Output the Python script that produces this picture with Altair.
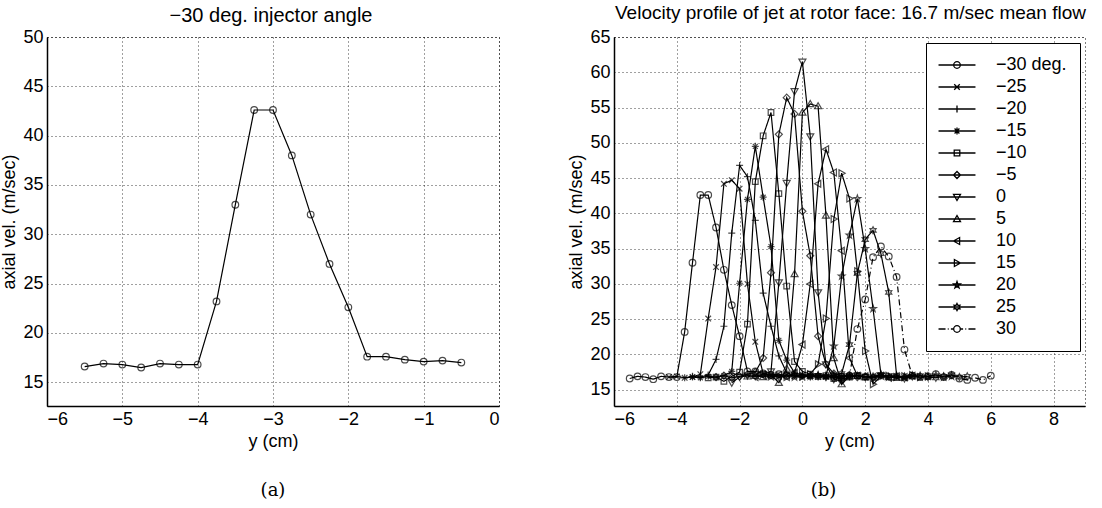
import math
import altair as alt
import pandas as pd

# ---------------- data ----------------
# (a) -30 deg. injector angle
Y_CM_A = [-5.5, -5.25, -5.0, -4.75, -4.5, -4.25, -4.0, -3.75, -3.5, -3.25, -3.0,
          -2.75, -2.5, -2.25, -2.0, -1.75, -1.5, -1.25, -1.0, -0.75, -0.5]
VEL_A = [16.6, 16.9, 16.8, 16.5, 16.9, 16.8, 16.8, 23.2, 33.0, 42.6, 42.6,
         38.0, 32.0, 27.0, 22.6, 17.6, 17.6, 17.3, 17.1, 17.2, 17.0]

# (b) all injector angles
SERIES = ["−30 deg.", "−25", "−20", "−15", "−10", "−5", "0", "5", "10", "15", "20", "25", "30"]
X_START = [-5.5, -4.25, -3.75, -3.5, -3.0, -2.75, -2.25, -1.75, -1.5, -1.0, -0.25, 0.25, 1.0]
X_STEP = 0.25
V_M30 = VEL_A
V_M25 = [16.8, 16.9, 16.7, 16.8, 17.2, 25.1, 32.4, 44.2, 44.7, 43.5, 30.0, 21.8, 17.3, 17.0, 16.8, 17.1, 16.9, 16.7, 17.0, 16.8, 16.9]
V_M20 = [16.7, 16.9, 16.8, 17.1, 19.3, 24.0, 37.2, 46.8, 45.2, 39.0, 28.7, 24.0, 19.8, 17.4, 17.0, 16.9, 17.1, 16.8, 16.9, 17.0, 16.7]
V_M15 = [16.8, 16.7, 16.9, 16.8, 17.0, 17.6, 30.1, 42.0, 49.5, 42.3, 35.3, 22.0, 19.2, 17.4, 17.1, 16.9, 17.0, 16.8, 17.0, 16.8, 16.9]
V_M10 = [16.7, 16.8, 16.2, 16.9, 17.5, 24.3, 44.5, 51.0, 54.3, 42.8, 29.7, 19.0, 17.6, 17.2, 16.9, 17.0, 16.6, 16.9, 16.8, 17.0, 16.8]
V_M05 = [16.8, 17.0, 16.7, 16.9, 17.2, 17.5, 19.5, 31.6, 51.2, 56.4, 54.1, 40.3, 34.0, 22.6, 18.6, 17.3, 16.9, 17.1, 16.8, 16.9, 16.7]
V_P00 = [16.0, 16.8, 17.0, 16.9, 17.2, 17.6, 30.2, 44.3, 57.3, 61.5, 50.9, 28.8, 18.6, 16.5, 16.2, 16.9, 17.0, 16.8, 16.7, 17.0, 16.9]
V_P05 = [16.9, 17.0, 16.8, 17.1, 16.0, 18.0, 31.4, 54.3, 55.5, 55.2, 39.7, 19.5, 15.8, 16.9, 17.0, 16.8, 16.9, 17.1, 16.8, 16.7, 16.9]
V_P10 = [16.8, 17.0, 16.9, 17.1, 16.8, 17.4, 21.4, 30.0, 44.2, 49.1, 45.8, 34.7, 19.5, 17.0, 16.9, 16.8, 17.0, 16.7, 16.9, 16.8, 17.0]
V_P15 = [16.9, 17.0, 16.8, 17.1, 16.9, 17.2, 18.6, 25.1, 39.2, 45.7, 42.1, 31.8, 20.5, 15.8, 16.9, 17.0, 16.8, 16.9, 17.1, 16.8, 16.9]
V_P20 = [16.8, 17.0, 16.9, 17.1, 17.0, 21.2, 31.1, 36.9, 42.1, 35.0, 26.5, 17.2, 16.8, 16.9, 16.7, 17.0, 16.8, 16.9, 17.1, 16.8, 16.9]
V_P25 = [16.9, 17.0, 16.8, 17.1, 17.3, 21.4, 31.5, 36.3, 37.6, 34.3, 28.8, 17.0, 16.6, 16.9, 17.0, 16.8, 16.7, 16.9, 17.1, 16.8, 16.9]
V_P30 = [16.8, 16.5, 17.0, 23.6, 27.8, 33.8, 35.3, 33.9, 31.0, 20.7, 17.0, 16.8, 16.9, 17.2, 16.8, 17.1, 16.6, 16.4, 16.7, 16.4, 17.0]
VALUES = [V_M30, V_M25, V_M20, V_M15, V_M10, V_M05, V_P00, V_P05, V_P10, V_P15, V_P20, V_P25, V_P30]
MARKERS = ["o", "x", "+", "*", "s", "d", "v", "^", "<", ">", "p", "h", "o"]

# ---------------- marker geometry (style only) ----------------
def star_pts(n, r_in):
    pts = []
    for i in range(2 * n):
        r = 1.0 if i % 2 == 0 else r_in
        a = -math.pi / 2 + i * math.pi / n
        pts.append((r * math.cos(a), r * math.sin(a)))
    return pts

POLY = {
    "s": [(-0.8, -0.8), (0.8, -0.8), (0.8, 0.8), (-0.8, 0.8)],
    "d": [(0, -1), (1, 0), (0, 1), (-1, 0)],
    "v": [(-1, -0.75), (1, -0.75), (0, 1)],
    "^": [(-1, 0.75), (1, 0.75), (0, -1)],
    "<": [(0.75, -1), (0.75, 1), (-1, 0)],
    ">": [(-0.75, -1), (-0.75, 1), (1, 0)],
    "p": star_pts(5, 0.4),
    "h": star_pts(6, 0.55),
}
SEGS = {
    "x": [((-0.8, -0.8), (0.8, 0.8)), ((-0.8, 0.8), (0.8, -0.8))],
    "+": [((-1, 0), (1, 0)), ((0, -1), (0, 1))],
    "*": [((-1, 0), (1, 0)), ((0, -1), (0, 1)),
          ((-0.7, -0.7), (0.7, 0.7)), ((-0.7, 0.7), (0.7, -0.7))],
}

def f(v):
    return f"{v:.3f}"

def marker_path(kind, s):
    if kind == "o":
        r = 0.95 * s
        return f"M{f(-r)},0A{f(r)},{f(r)} 0 1,0 {f(r)},0A{f(r)},{f(r)} 0 1,0 {f(-r)},0Z"
    if kind in POLY:
        pts = POLY[kind]
        return "M" + "L".join(f"{f(x*s)},{f(y*s)}" for x, y in pts) + "Z"
    return "".join(f"M{f(a[0]*s)},{f(a[1]*s)}L{f(b[0]*s)},{f(b[1]*s)}" for a, b in SEGS[kind])

# legend symbols: unit = sqrt(144)/2 = 6 px; line spans +-18.5 px
LEG_HALF = 3.08
LEG_MARK = 0.58

def legend_path(kind, dashdot):
    L = LEG_HALF
    if dashdot:
        pieces = [(-L, -0.62 * L), (-0.5 * L, -0.45 * L), (-0.33 * L, -0.18 * L),
                  (0.18 * L, 0.33 * L), (0.45 * L, 0.5 * L), (0.62 * L, L)]
        line = "".join(f"M{f(a)},0L{f(b)},0" for a, b in pieces)
    else:
        line = f"M{f(-L)},0L{f(L)},0"
    return line + marker_path(kind, LEG_MARK)

PLOT_SHAPES = [marker_path(k, 1.0) for k in MARKERS]
LEGEND_SHAPES = [legend_path(k, lab == "30") for k, lab in zip(MARKERS, SERIES)]
DASHES = [[1, 0]] * 12 + [[6, 3, 1, 3]]

# ---------------- tables ----------------
df_a = pd.DataFrame({"y_cm": Y_CM_A, "vel": VEL_A})
rows = []
for lab, x0, vals in zip(SERIES, X_START, VALUES):
    for i, v in enumerate(vals):
        rows.append({"series": lab, "y_cm": x0 + i * X_STEP, "vel": v, "i": i})
df_b = pd.DataFrame(rows)
df_leg = df_b[df_b["i"] == 0]

FONT = "Liberation Sans"
MSIZE = 49
LW = 1.2

# ---------------- panel (a) ----------------
xa = alt.X("y_cm:Q", scale=alt.Scale(domain=[-6, 0], nice=False),
           axis=alt.Axis(values=[-6, -5, -4, -3, -2, -1, 0], title="y (cm)"))
ya = alt.Y("vel:Q", scale=alt.Scale(domain=[12.6, 50], nice=False, zero=False),
           axis=alt.Axis(values=[15, 20, 25, 30, 35, 40, 45, 50], title="axial vel. (m/sec)"))
line_a = alt.Chart(df_a).mark_line(color="black", strokeWidth=LW).encode(x=xa, y=ya)
pts_a = alt.Chart(df_a).mark_point(color="black", filled=False, strokeWidth=LW, size=MSIZE,
                                   shape=PLOT_SHAPES[0]).encode(x=xa, y=ya)
panel_a = alt.layer(line_a, pts_a).properties(
    width=452, height=369,
    title=alt.TitleParams("(a)", orient="bottom", font="DejaVu Serif", fontSize=18,
                          fontWeight="normal", offset=32, color="black"))
panel_a = alt.vconcat(panel_a).properties(
    title=alt.TitleParams("−30 deg. injector angle", anchor="middle", fontSize=20,
                          font=FONT, fontWeight="normal", dx=21, offset=2, color="black"))

# ---------------- panel (b) ----------------
xb = alt.X("y_cm:Q", scale=alt.Scale(domain=[-6, 9], nice=False),
           axis=alt.Axis(values=[-6, -4, -2, 0, 2, 4, 6, 8], title="y (cm)"))
yb = alt.Y("vel:Q", scale=alt.Scale(domain=[12.7, 65], nice=False, zero=False),
           axis=alt.Axis(values=[15, 20, 25, 30, 35, 40, 45, 50, 55, 60, 65],
                         title="axial vel. (m/sec)"))
line_b = alt.Chart(df_b).mark_line(color="black", strokeWidth=LW).encode(
    x=xb, y=yb, detail="series:N",
    strokeDash=alt.StrokeDash("series:N", scale=alt.Scale(domain=SERIES, range=DASHES), legend=None),
    order="i:Q")
pts_b = alt.Chart(df_b).mark_point(color="black", filled=False, strokeWidth=LW, size=MSIZE).encode(
    x=xb, y=yb,
    shape=alt.Shape("series:N", scale=alt.Scale(domain=SERIES, range=PLOT_SHAPES), legend=None))
leg_b = alt.Chart(df_leg).mark_point(color="black", filled=False, strokeWidth=1, opacity=0).encode(
    x=xb, y=yb,
    shape=alt.Shape("series:N", scale=alt.Scale(domain=SERIES, range=LEGEND_SHAPES),
                    legend=alt.Legend(title=None, orient="none", legendX=312, legendY=6,
                                      symbolSize=144, symbolStrokeWidth=1.3, symbolOffset=9,
                                      symbolStrokeColor="black", symbolFillColor="transparent",
                                      symbolOpacity=1,
                                      labelFontSize=18, labelFont=FONT, labelColor="black",
                                      labelOffset=30, rowPadding=4, padding=13,
                                      strokeColor="black", fillColor="white",
                                      cornerRadius=0)))
panel_b = alt.layer(line_b, pts_b, leg_b).resolve_scale(shape="independent").properties(
    width=471, height=369,
    title=alt.TitleParams("(b)", orient="bottom", font="DejaVu Serif", fontSize=18,
                          fontWeight="normal", offset=32, dx=-26, color="black"))
panel_b = alt.vconcat(panel_b).properties(
    title=alt.TitleParams("Velocity profile of jet at rotor face: 16.7 m/sec mean flow",
                          anchor="middle", fontSize=19, font=FONT, fontWeight="normal",
                          dx=24, offset=5, color="black"))

chart = alt.hconcat(panel_a, panel_b, spacing=67).properties(
    padding={"left": 0, "top": 3, "right": 4, "bottom": 2}
).configure_axis(
    labelFont=FONT, labelFontSize=18, labelColor="black",
    titleFont=FONT, titleFontSize=18, titleFontWeight="normal", titleColor="black",
    domainColor="black", domainWidth=1.5, ticks=False, labelPadding=4, titlePadding=4,
    gridColor="black", gridDash=[1, 3], gridOpacity=0.75, gridWidth=1,
).configure_view(stroke="black", strokeDash=[1, 3], strokeWidth=1).configure_concat(spacing=0)

chart.save("out.html", embed_options={"renderer": "svg", "actions": False})
